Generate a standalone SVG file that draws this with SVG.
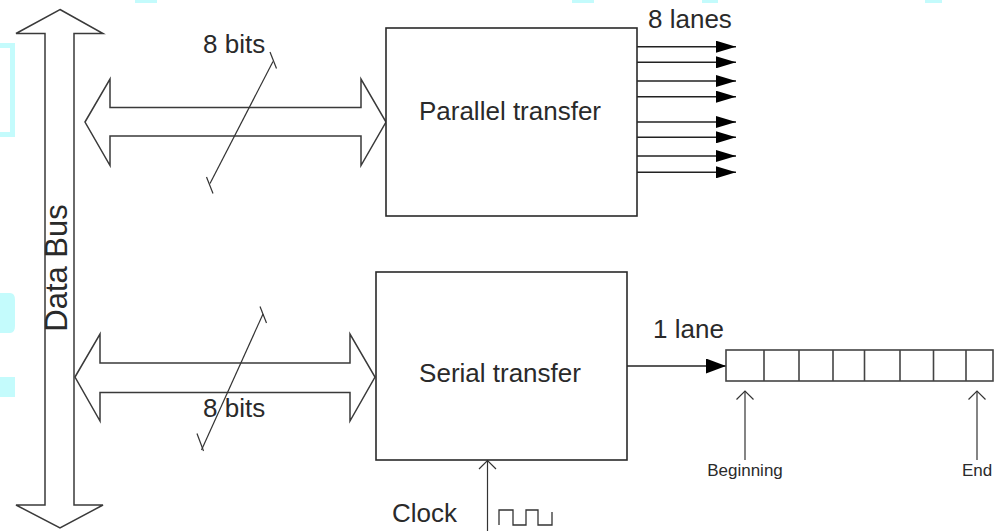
<svg xmlns="http://www.w3.org/2000/svg" width="997" height="531" viewBox="0 0 997 531">
<defs>
<style>
.txt{font-family:"Liberation Sans",Arial,sans-serif;fill:#2a2a2a}
.box{fill:#fff;stroke:#2a2a2a;stroke-width:1.6}
.hollow{fill:#fff;stroke:#3a3a3a;stroke-width:1.5;stroke-linejoin:miter}
.ln{stroke:#222;stroke-width:1.5;fill:none}
.thin{stroke:#333;stroke-width:1.2;fill:none}
.wm{fill:#c4fbfc}
</style>
<marker id="tri" markerWidth="20" markerHeight="12" refX="20" refY="6" orient="auto" markerUnits="userSpaceOnUse">
<path d="M0,0 L20,6 L0,12 Z" fill="#000"/>
</marker>
<marker id="tri2" markerWidth="20" markerHeight="15" refX="20" refY="7.5" orient="auto" markerUnits="userSpaceOnUse">
<path d="M0,0 L20,7.5 L0,15 Z" fill="#000"/>
</marker>
<marker id="open" markerWidth="20" markerHeight="20" refX="10" refY="10" orient="auto" markerUnits="userSpaceOnUse">
<path d="M1.5,1.5 L10,10 L1.5,18.5" fill="none" stroke="#333" stroke-width="1.2"/>
</marker>
</defs>
<rect width="997" height="531" fill="#fff"/>

<g id="watermark">
<path class="wm" d="M0,43 H15 V137 H0 V132 H10 V48 H0 Z"/>
<path class="wm" d="M0,293 H10 Q15,293 15,300 V326 Q15,333 10,333 H0 Z"/>
<rect class="wm" x="0" y="377" width="15" height="20"/>
<rect class="wm" x="135" y="0" width="22" height="3"/>
<rect class="wm" x="572" y="0" width="22" height="3"/>
<rect class="wm" x="702" y="0" width="16" height="3"/>
<rect class="wm" x="925" y="0" width="17" height="3"/>
</g>

<g id="data-bus">
<polygon class="hollow" points="60,9.5 103,33.5 74,33.5 74,505 103,505 60,528 16,505 45,505 45,33.5 16,33.5"/>
<text class="txt" font-size="31" transform="translate(67,268) rotate(-90)" text-anchor="middle">Data Bus</text>
</g>

<g id="connectors">
<polygon class="hollow" points="85,122 110,79 110,107.5 361,107.5 361,79 386,122 361,165.5 361,136 110,136 110,165.5"/>
<polygon class="hollow" points="75,377 100,334 100,363 350,363 350,334 375,377 350,421 350,392.5 100,392.5 100,421"/>
<g class="thin">
<line x1="210" y1="183.5" x2="273" y2="61.5"/>
<path d="M270,52 L276.5,68.5"/>
<path d="M206.5,177 L213,193.5"/>
<line x1="201.5" y1="450" x2="263" y2="314"/>
<path d="M260,306.5 L266.5,323"/>
<path d="M197,433.5 L203.5,451"/>
</g>
<g class="ln">
<line x1="637" y1="46.7" x2="736" y2="46.7" marker-end="url(#tri)"/>
<line x1="637" y1="62.3" x2="736" y2="62.3" marker-end="url(#tri)"/>
<line x1="637" y1="81" x2="736" y2="81" marker-end="url(#tri)"/>
<line x1="637" y1="96.7" x2="736" y2="96.7" marker-end="url(#tri)"/>
<line x1="637" y1="122" x2="736" y2="122" marker-end="url(#tri)"/>
<line x1="637" y1="137.3" x2="736" y2="137.3" marker-end="url(#tri)"/>
<line x1="637" y1="156" x2="736" y2="156" marker-end="url(#tri)"/>
<line x1="637" y1="172.3" x2="736" y2="172.3" marker-end="url(#tri)"/>
<line x1="627" y1="366" x2="726" y2="366" marker-end="url(#tri2)"/>
</g>
<line class="thin" x1="745" y1="460" x2="745" y2="391" marker-end="url(#open)"/>
<line class="thin" x1="977" y1="460" x2="977" y2="391" marker-end="url(#open)"/>
<line class="thin" x1="487.5" y1="531" x2="487.5" y2="460.5" marker-end="url(#open)"/>
</g>

<g id="parallel-transfer">
<rect class="box" x="386" y="28" width="251" height="188"/>
<text class="txt" font-size="26" x="510" y="120" text-anchor="middle">Parallel transfer</text>
</g>
<text class="txt" font-size="26" x="648" y="28">8 lanes</text>
<text class="txt" font-size="26" x="203" y="53">8 bits</text>

<g id="serial-transfer">
<rect class="box" x="376" y="272" width="251" height="188"/>
<text class="txt" font-size="26" x="500" y="382" text-anchor="middle">Serial transfer</text>
</g>
<text class="txt" font-size="26" x="653" y="338">1 lane</text>
<text class="txt" font-size="26" x="203" y="417">8 bits</text>

<g id="shift-register">
<rect x="726" y="350" width="267" height="31" fill="#fff" stroke="#444" stroke-width="1.6"/>
<g stroke="#444" stroke-width="1.6">
<line x1="764" y1="350" x2="764" y2="381"/>
<line x1="799" y1="350" x2="799" y2="381"/>
<line x1="833" y1="350" x2="833" y2="381"/>
<line x1="864.5" y1="350" x2="864.5" y2="381"/>
<line x1="900" y1="350" x2="900" y2="381"/>
<line x1="933.5" y1="350" x2="933.5" y2="381"/>
<line x1="966" y1="350" x2="966" y2="381"/>
</g>
</g>
<text class="txt" font-size="17" x="745" y="476" text-anchor="middle">Beginning</text>
<text class="txt" font-size="17" x="977" y="476" text-anchor="middle">End</text>

<g id="clock">
<text class="txt" font-size="26" x="392" y="522">Clock</text>
<path d="M499,525 V510 H513 V525 H526 V510 H538 V525 H552 V512" fill="none" stroke="#333" stroke-width="1.3"/>
</g>
</svg>
